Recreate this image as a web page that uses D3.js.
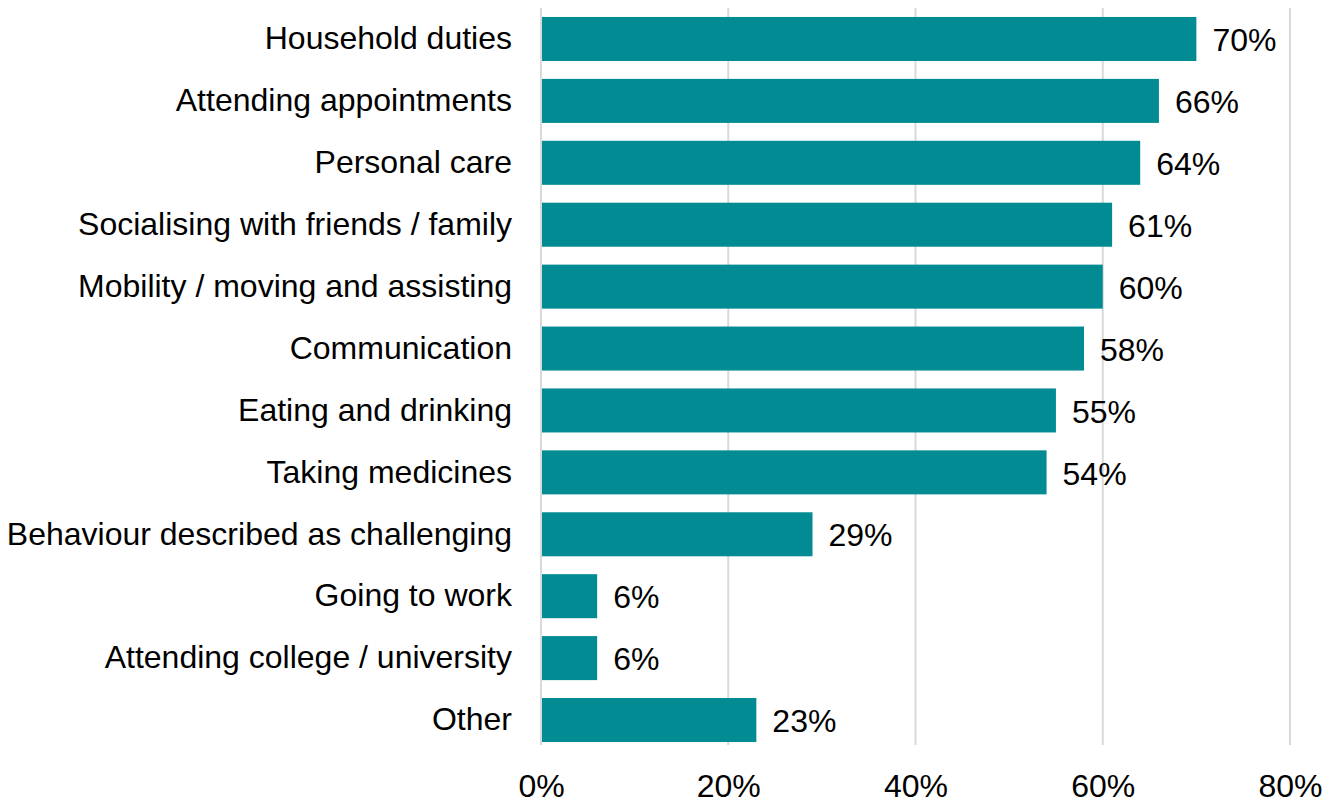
<!DOCTYPE html>
<html>
<head>
<meta charset="utf-8">
<script src="https://cdn.jsdelivr.net/npm/d3@7"></script>
<style>
  html, body { margin: 0; padding: 0; background: #fff; }
  svg { display: block; font-family: Arial, "Liberation Sans", sans-serif; }
</style>
</head>
<body>
<svg id="chart" width="1336" height="805"></svg>
<script>
// Share of carers providing each type of support
const categories = [
  "Household duties",
  "Attending appointments",
  "Personal care",
  "Socialising with friends / family",
  "Mobility / moving and assisting",
  "Communication",
  "Eating and drinking",
  "Taking medicines",
  "Behaviour described as challenging",
  "Going to work",
  "Attending college / university",
  "Other"
];
const values = [70, 66, 64, 61, 60, 58, 55, 54, 29, 6, 6, 23];
const tickValues = [0, 20, 40, 60, 80];

const svg = d3.select("#chart");
const margin = { top: 8, right: 46, bottom: 54, left: 541 };
const width = 1336 - margin.left - margin.right;
const height = 805 - margin.top - margin.bottom;
const gridBottom = height - 6;
const fontSize = 32;

const x = d3.scaleLinear().domain([0, 80]).range([0, width]);
const y = d3.scaleBand().domain(categories).range([0, height]).paddingInner(0.289).paddingOuter(0.145);

const g = svg.append("g").attr("transform", `translate(${margin.left},${margin.top})`);

// vertical gridlines
g.selectAll("line.grid")
  .data(tickValues)
  .join("line")
  .attr("class", "grid")
  .attr("x1", d => x(d)).attr("x2", d => x(d))
  .attr("y1", 0).attr("y2", gridBottom)
  .attr("stroke", "#d9d9d9")
  .attr("stroke-width", 2);

// bars
g.selectAll("rect.bar")
  .data(categories)
  .join("rect")
  .attr("class", "bar")
  .attr("x", x(0) + 1)
  .attr("y", d => y(d))
  .attr("width", (d, i) => x(values[i]) - x(0) - 1)
  .attr("height", y.bandwidth())
  .attr("fill", "#028b92");

// value labels
g.selectAll("text.val")
  .data(categories)
  .join("text")
  .attr("class", "val")
  .attr("x", (d, i) => x(values[i]) + 16)
  .attr("y", d => y(d) + y.bandwidth() / 2 + 1)
  .attr("dy", "0.35em")
  .attr("font-size", fontSize)
  .attr("fill", "#000")
  .text((d, i) => values[i] + "%");

// category axis
const yAxis = g.append("g")
  .call(d3.axisLeft(y).tickSize(0).tickPadding(29));
yAxis.select(".domain").remove();
yAxis.selectAll("text")
  .attr("font-size", fontSize)
  .attr("fill", "#000")
  .attr("font-family", "Arial, 'Liberation Sans', sans-serif");

// value axis
const xAxis = g.append("g")
  .attr("transform", `translate(0,${height})`)
  .call(d3.axisBottom(x).tickValues(tickValues).tickSize(0).tickPadding(23).tickFormat(d => d + "%"));
xAxis.select(".domain").remove();
xAxis.selectAll("text")
  .attr("font-size", fontSize)
  .attr("fill", "#000")
  .attr("font-family", "Arial, 'Liberation Sans', sans-serif");
</script>
</body>
</html>
